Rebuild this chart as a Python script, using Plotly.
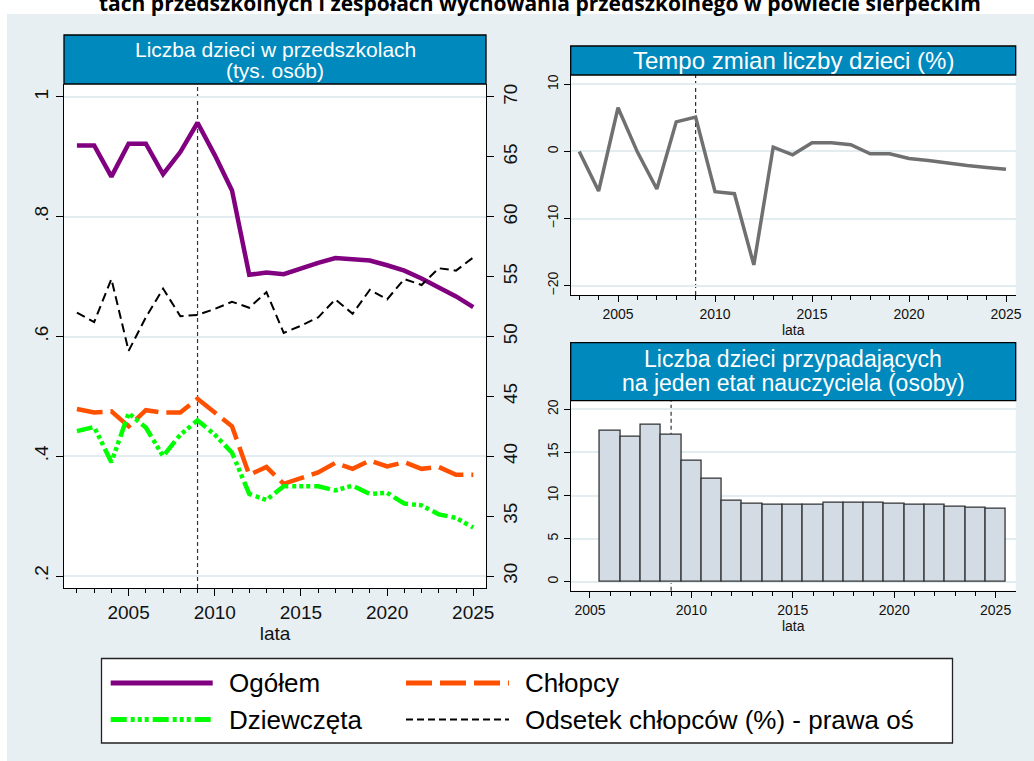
import plotly.graph_objects as go

W, H = 1034, 761

# ---------------- data ----------------
years = [2002, 2003, 2004, 2005, 2006, 2007, 2008, 2009, 2010, 2011, 2012, 2013,
         2014, 2015, 2016, 2017, 2018, 2019, 2020, 2021, 2022, 2023, 2024, 2025]
ogolem = [0.919, 0.919, 0.867, 0.922, 0.922, 0.871, 0.908, 0.957, 0.903, 0.844, 0.703, 0.707,
          0.704, 0.714, 0.723, 0.731, 0.729, 0.727, 0.719, 0.710, 0.697, 0.682, 0.667, 0.649]
chlopcy = [0.479, 0.473, 0.475, 0.450, 0.477, 0.473, 0.473, 0.496, 0.473, 0.450, 0.369, 0.382,
           0.354, 0.364, 0.373, 0.389, 0.379, 0.393, 0.383, 0.390, 0.379, 0.382, 0.369, 0.369]
dziewczeta = [0.442, 0.449, 0.390, 0.472, 0.448, 0.400, 0.436, 0.460, 0.436, 0.406, 0.337, 0.327,
              0.350, 0.350, 0.350, 0.343, 0.351, 0.337, 0.339, 0.321, 0.318, 0.303, 0.297, 0.281]
odsetek = [52.0, 51.2, 54.8, 48.8, 51.6, 54.0, 51.7, 51.8, 52.3, 52.9, 52.4, 53.7,
           50.3, 50.9, 51.6, 53.1, 51.9, 53.9, 53.1, 54.8, 54.3, 55.7, 55.5, 56.6]

years_tempo = [2003, 2004, 2005, 2006, 2007, 2008, 2009, 2010, 2011, 2012, 2013, 2014,
               2015, 2016, 2017, 2018, 2019, 2020, 2021, 2022, 2023, 2024, 2025]
tempo = [0.0, -5.9, 6.5, -0.1, -5.6, 4.4, 5.1, -6.0, -6.3, -16.9, 0.65, -0.5,
         1.3, 1.3, 1.0, -0.35, -0.35, -1.05, -1.35, -1.75, -2.1, -2.4, -2.65]

years_etat = [2006, 2007, 2008, 2009, 2010, 2011, 2012, 2013, 2014, 2015,
              2016, 2017, 2018, 2019, 2020, 2021, 2022, 2023, 2024, 2025]
dzieci_na_etat = [17.5, 16.8, 18.2, 17.05, 14.04, 11.95, 9.4, 9.09, 8.9, 8.97,
                  8.97, 9.13, 9.13, 9.13, 9.05, 8.97, 8.9, 8.74, 8.58, 8.43]

ref_year = 2009
left_ticks = [0.2, 0.4, 0.6, 0.8, 1.0]
left_ticktext = [".2", ".4", ".6", ".8", "1"]
right_ticks = [30, 35, 40, 45, 50, 55, 60, 65, 70]
tempo_ticks = [-20, -10, 0, 10]
etat_ticks = [0, 5, 10, 15, 20]
year_ticks = [2005, 2010, 2015, 2020, 2025]

title_text = "tach przedszkolnych i zespołach wychowania przedszkolnego w powiecie sierpeckim"
left_header = ["Liczba dzieci w przedszkolach", "(tys. osób)"]
tr_header = "Tempo zmian liczby dzieci (%)"
br_header = ["Liczba dzieci przypadających", "na jeden etat nauczyciela (osoby)"]
legend_names = ["Ogółem", "Chłopcy", "Dziewczęta", "Odsetek chłopców (%) - prawa oś"]

# ---------------- styling ----------------
BG = "#e8eff2"
HEADER = "#0089bc"
GRID = "#e3ecf0"
FONT = "Liberation Sans, Arial, sans-serif"
PURPLE = "#800080"
ORANGE = "#ff5000"
GREEN = "#00ff00"
GREY = "#707070"
DASH_OR = "26px,8px"
DASH_GR = "16px,4px,4px,3px,4px,3px,4px,4px"
DASH_BK = "9px,5px"


def px(x):
    return x / W


def py(y):
    return 1 - y / H


fig = go.Figure()

# left panel traces
fig.add_trace(go.Scatter(x=years, y=ogolem, mode="lines", xaxis="x", yaxis="y",
                         line=dict(color=PURPLE, width=4.5), showlegend=False))
fig.add_trace(go.Scatter(x=years, y=chlopcy, mode="lines", xaxis="x", yaxis="y",
                         line=dict(color=ORANGE, width=4.5, dash=DASH_OR), showlegend=False))
fig.add_trace(go.Scatter(x=years, y=dziewczeta, mode="lines", xaxis="x", yaxis="y",
                         line=dict(color=GREEN, width=4.5, dash=DASH_GR), showlegend=False))
fig.add_trace(go.Scatter(x=years, y=odsetek, mode="lines", xaxis="x", yaxis="y2",
                         line=dict(color="black", width=2, dash=DASH_BK), showlegend=False))
# top right
fig.add_trace(go.Scatter(x=years_tempo, y=tempo, mode="lines", xaxis="x3", yaxis="y3",
                         line=dict(color=GREY, width=3.5), showlegend=False))
# bottom right
fig.add_trace(go.Bar(x=years_etat, y=dzieci_na_etat, xaxis="x4", yaxis="y4", width=1,
                     marker=dict(color="#d3dce4", line=dict(color="#333333", width=1.3)),
                     showlegend=False))

axis_common = dict(showline=True, linecolor="black", linewidth=1.3, ticks="outside",
                   tickcolor="black", tickwidth=1.3, zeroline=False, automargin=False,
                   color="#111111")


def xaxis(domain, rng, anchor, fs, ticklen, lab_standoff):
    return dict(axis_common, domain=domain, range=rng, anchor=anchor,
                tickvals=year_ticks, ticklen=ticklen, showgrid=False,
                tickfont=dict(family=FONT, size=fs),
                minor=dict(dtick=1, tick0=2000, ticks="outside", ticklen=4,
                           tickcolor="black", tickwidth=1.2, showgrid=False),
                title=dict(text="lata", font=dict(family=FONT, size=fs), standoff=lab_standoff))


L_dom_x = [px(64), px(486)]
L_dom_y = [py(588), py(84)]
R_dom_x = [px(570.7), px(1015.7)]
TR_dom_y = [py(295), py(75)]
BR_dom_y = [py(590.7), py(400.7)]

fig.update_layout(
    width=W, height=H,
    margin=dict(l=0, r=0, t=0, b=0),
    paper_bgcolor=BG, plot_bgcolor="white",
    showlegend=False,
    bargap=0,
    xaxis=xaxis(L_dom_x, [2001.25, 2025.74], "y", 19, 7, 2),
    yaxis=dict(axis_common, domain=L_dom_y, range=[0.18, 1.0217], anchor="x",
               tickvals=left_ticks, ticktext=left_ticktext, ticklen=7, tickangle=-90,
               showgrid=True, gridcolor=GRID, gridwidth=2,
               tickfont=dict(family=FONT, size=19)),
    yaxis2=dict(axis_common, domain=L_dom_y, range=[29, 71.083], anchor="x",
                overlaying="y", side="right", tickvals=right_ticks, ticklen=7,
                tickangle=-90, showgrid=False, tickfont=dict(family=FONT, size=19)),
    xaxis3=xaxis(R_dom_x, [2002.56, 2025.5], "y3", 14, 6, 0),
    yaxis3=dict(axis_common, domain=TR_dom_y, range=[-21.38, 11.38], anchor="x3",
                tickvals=tempo_ticks, ticklen=6, tickangle=-90,
                showgrid=True, gridcolor=GRID, gridwidth=2,
                tickfont=dict(family=FONT, size=14)),
    xaxis4=xaxis(R_dom_x, [2004.05, 2025.99], "y4", 14, 6, 0),
    yaxis4=dict(axis_common, domain=BR_dom_y, range=[-1.04, 21.0], anchor="x4",
                tickvals=etat_ticks, ticklen=6, tickangle=-90,
                showgrid=True, gridcolor=GRID, gridwidth=2,
                tickfont=dict(family=FONT, size=14)),
)

shapes = []
# white strips around the grey background (top and left edges)
shapes.append(dict(type="rect", xref="paper", yref="paper", x0=0, x1=1, y0=py(14), y1=1.01,
                   fillcolor="white", line=dict(width=0), layer="below"))
shapes.append(dict(type="rect", xref="paper", yref="paper", x0=-0.01, x1=px(7), y0=-0.01, y1=1.01,
                   fillcolor="white", line=dict(width=0), layer="below"))
# header boxes
for (x0, x1, y0, y1) in [(64, 486, 35, 84), (570.7, 1015.7, 46, 75), (570.7, 1015.7, 342.7, 400.7)]:
    shapes.append(dict(type="rect", xref="paper", yref="paper", x0=px(x0), x1=px(x1),
                       y0=py(y1), y1=py(y0), fillcolor=HEADER,
                       line=dict(color="black", width=1.3)))
# vertical reference lines at 2009
for xr, yr in [("x", "y domain"), ("x3", "y3 domain"), ("x4", "y4 domain")]:
    shapes.append(dict(type="line", xref=xr, yref=yr, x0=ref_year, x1=ref_year, y0=0, y1=1,
                       line=dict(color="#333333", width=1.2, dash="4px,3px"), layer="below"))
# legend box
shapes.append(dict(type="rect", xref="paper", yref="paper", x0=px(101.5), x1=px(952.5),
                   y0=py(743), y1=py(658.5), fillcolor="white",
                   line=dict(color="#222222", width=1.3)))
# legend samples
leg_items = [
    (legend_names[0], 110.7, 212.7, 227, 683, dict(color=PURPLE, width=5)),
    (legend_names[1], 406, 509, 523, 683, dict(color=ORANGE, width=5, dash=DASH_OR)),
    (legend_names[2], 110.7, 212.7, 227, 719.5, dict(color=GREEN, width=5, dash=DASH_GR)),
    (legend_names[3], 406, 509, 523, 719.5, dict(color="black", width=2, dash="7px,4px")),
]
annotations = []
for name, lx0, lx1, tx, yy, ln in leg_items:
    shapes.append(dict(type="line", xref="paper", yref="paper", x0=px(lx0), x1=px(lx1),
                       y0=py(yy), y1=py(yy), line=ln))
    annotations.append(dict(xref="paper", yref="paper", x=px(tx), y=py(yy), text=name,
                            showarrow=False, xanchor="left", yanchor="middle",
                            font=dict(family=FONT, size=26, color="black")))

# header texts
annotations.append(dict(xref="paper", yref="paper", x=px(275), y=py(49), text=left_header[0],
                        showarrow=False, xanchor="center", yanchor="middle",
                        font=dict(family=FONT, size=21, color="white")))
annotations.append(dict(xref="paper", yref="paper", x=px(275), y=py(70.5), text=left_header[1],
                        showarrow=False, xanchor="center", yanchor="middle",
                        font=dict(family=FONT, size=21, color="white")))
annotations.append(dict(xref="paper", yref="paper", x=px(793.2), y=py(60.5), text=tr_header,
                        showarrow=False, xanchor="center", yanchor="middle",
                        font=dict(family=FONT, size=24, color="white")))
annotations.append(dict(xref="paper", yref="paper", x=px(793.2), y=py(358.5), text=br_header[0],
                        showarrow=False, xanchor="center", yanchor="middle",
                        font=dict(family=FONT, size=23, color="white")))
annotations.append(dict(xref="paper", yref="paper", x=px(793.2), y=py(383), text=br_header[1],
                        showarrow=False, xanchor="center", yanchor="middle",
                        font=dict(family=FONT, size=23, color="white")))
# clipped main title (only its lower part is visible, as in the source image)
annotations.append(dict(xref="paper", yref="paper", x=px(540), y=py(3), text="<b>" + title_text + "</b>",
                        showarrow=False, xanchor="center", yanchor="middle",
                        font=dict(family="Open Sans, sans-serif", size=21, color="black")))

fig.update_layout(shapes=shapes, annotations=annotations)
fig.write_html("out.html", config={"displayModeBar": False},
               post_script="document.body.style.margin='0px';document.body.style.overflow='hidden';")
